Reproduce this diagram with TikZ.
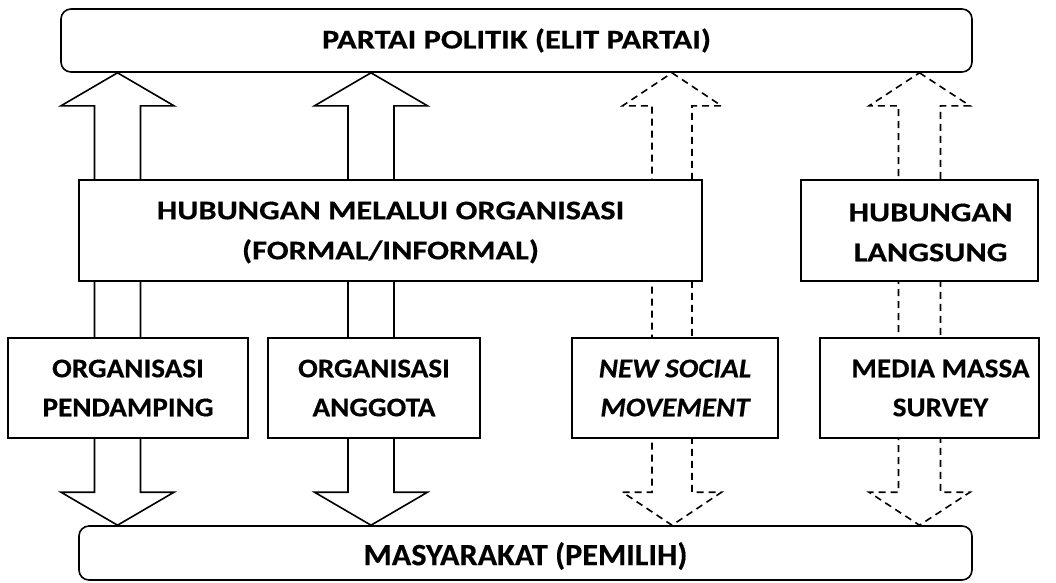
\documentclass[tikz,border=0pt]{standalone}
\usepackage{fontspec}
\setmainfont{Carlito}
\newfontfamily\narrowfont{Carlito}[FakeStretch=1.08, BoldFeatures={FakeBold=0.4}, BoldItalicFeatures={FakeBold=0.4}]
\newfontfamily\widefont{Carlito}[FakeStretch=1.2, BoldFeatures={FakeBold=0.4}]
\newfontfamily\basefont{Carlito}[FakeStretch=1.04, BoldFeatures={FakeBold=0.4}]
\usetikzlibrary{calc}
\newcommand\blockarrow[4]{%
  \draw[#4] (top.south -| #1) -- ++(#3,33) -- ++({#2-#3},0)
    -- ($(bot.north -| #1)+(#2,-33)$) -- ++({#3-#2},0)
    -- (bot.north -| #1) -- ++(-#3,-33) -- ++({#3-#2},0)
    -- ($(top.south -| #1)+(-#2,33)$) -- ++({#2-#3},0) -- cycle;}
\begin{document}
\begin{tikzpicture}[x=1pt,y=-1pt,
  box/.style={draw, line width=1.6pt, fill=white, inner sep=0pt},
  roundbox/.style={box, rounded corners=10pt},
  txt/.style={inner sep=0pt, align=center, font=\fontsize{27}{39}\narrowfont\bfseries},
  widetxt/.style={txt, font=\fontsize{27}{40}\widefont\bfseries},
  basetxt/.style={txt, font=\fontsize{31}{40}\basefont\bfseries},
  solidarrow/.style={draw, line width=1.6pt, fill=white, line join=miter},
  dasharrow/.style={draw, line width=1.6pt, dash pattern=on 7pt off 5pt, line join=miter}]
\useasboundingbox (0,0) rectangle (1056,582);
% main boxes (for arrow anchors)
\node[roundbox, minimum width=911pt, minimum height=63pt] (top) at (516.5,40.5) {};
\node[roundbox, minimum width=893pt, minimum height=54pt] (bot) at (525.5,553) {};
% column coordinates
\coordinate (c1) at (117.5,0);
\coordinate (c2) at (371,0);
\coordinate (c3) at (672,0);
\coordinate (c4) at (919.5,0);
% arrows
\blockarrow{c1}{23}{56.5}{solidarrow}
\blockarrow{c2}{23}{56.5}{solidarrow}
\blockarrow{c3}{20}{49.5}{dasharrow}
\blockarrow{c4}{21}{50.5}{dasharrow}
% boxes over arrows
\node[box, minimum width=623pt, minimum height=101pt] (mid) at (390.5,230.5) {};
\node[box, minimum width=237pt, minimum height=101pt] (lang) at (919.5,230.5) {};
\node[box, minimum width=240pt, minimum height=100pt] (pend) at (128,388) {};
\node[box, minimum width=212pt, minimum height=100pt] (angg) at (374,388) {};
\node[box, minimum width=206pt, minimum height=100pt] (nsm) at (675,388) {};
\node[box, minimum width=219pt, minimum height=100pt] (media) at (929.5,388) {};
% texts
\node[widetxt] (topt) at (top.center) {PARTAI POLITIK (ELIT PARTAI)};
\node[basetxt] (bott) at ([yshift=-3pt]bot.center) {MASYARAKAT (PEMILIH)};
\node[widetxt] (midt) at ([yshift=-2pt]mid.center) {HUBUNGAN MELALUI ORGANISASI\\(FORMAL/INFORMAL)};
\node[widetxt] (langt) at ([xshift=11pt,yshift=-2pt]lang.center) {HUBUNGAN\\LANGSUNG};
\node[txt] (pendt) at (pend.center) {ORGANISASI\\PENDAMPING};
\node[txt] (anggt) at (angg.center) {ORGANISASI\\ANGGOTA};
\node[txt] (nsmt) at (nsm.center) {\itshape NEW SOCIAL\\\itshape MOVEMENT};
\node[txt] (mediat) at ([xshift=11pt]media.center) {MEDIA MASSA\\SURVEY};
\end{tikzpicture}
\end{document}
